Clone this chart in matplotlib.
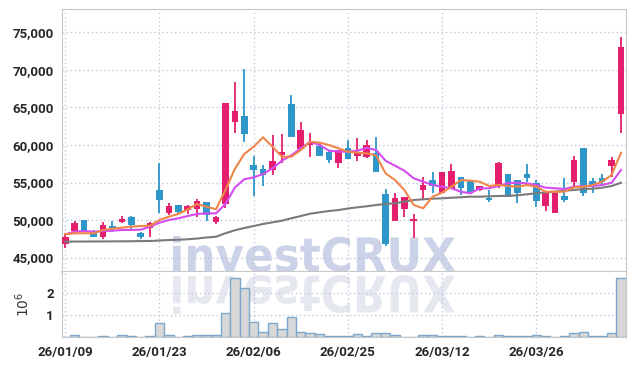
import numpy as np
import matplotlib.pyplot as plt
from matplotlib.textpath import TextPath
from matplotlib.patches import PathPatch
from matplotlib.font_manager import FontProperties
from matplotlib.transforms import Affine2D
from matplotlib.ticker import FuncFormatter

plt.rcParams['font.family'] = ['Roboto', 'DejaVu Sans']

# trading days, yy/mm/dd
dates = ["26/01/09", "26/01/12", "26/01/13", "26/01/14", "26/01/15", "26/01/16",
         "26/01/19", "26/01/20", "26/01/21", "26/01/22", "26/01/23",
         "26/01/26", "26/01/27", "26/01/28", "26/01/29", "26/01/30",
         "26/02/02", "26/02/03", "26/02/04", "26/02/05", "26/02/06",
         "26/02/09", "26/02/10", "26/02/11", "26/02/12", "26/02/13",
         "26/02/19", "26/02/20", "26/02/23", "26/02/24", "26/02/25",
         "26/02/26", "26/02/27", "26/03/03", "26/03/04", "26/03/05", "26/03/06",
         "26/03/09", "26/03/10", "26/03/11", "26/03/12", "26/03/13",
         "26/03/16", "26/03/17", "26/03/18", "26/03/19", "26/03/20",
         "26/03/23", "26/03/24", "26/03/25", "26/03/26", "26/03/27",
         "26/03/30", "26/03/31", "26/04/01", "26/04/02", "26/04/03",
         "26/04/06", "26/04/07", "26/04/08"]

opens = [46750, 48550, 50000, 48550, 47750, 49150, 49750, 50450, 48250, 48950,
         54000, 50900, 52000, 51350, 51450, 52400, 49750, 52100, 63000, 63900,
         57300, 56800, 56700, 58700, 65500, 59500, 60000, 59900, 59100, 57600,
         59600, 58600, 58400, 58900, 53500, 49900, 51500, 49900, 54000, 55300,
         53600, 54100, 55700, 55200, 54000, 53000, 54600, 56100, 55300, 56100,
         55000, 51900, 51000, 53200, 55100, 59600, 55200, 55600, 57200, 64100]
highs = [48250, 49900, 50000, 48650, 49700, 49900, 50550, 50550, 48350, 49800,
         57650, 52250, 52000, 52050, 52800, 52400, 50550, 65600, 68400, 70100,
         58600, 57300, 61300, 61400, 66600, 63100, 61600, 60300, 59300, 59300,
         60700, 60900, 60600, 61000, 54100, 53600, 53100, 50800, 55700, 56400,
         56400, 57500, 55700, 55200, 54600, 54000, 57800, 56100, 55400, 57500,
         55400, 53800, 53800, 55600, 58500, 59600, 55600, 56100, 58400, 74400]
lows = [46250, 48100, 48350, 47700, 47500, 48350, 49650, 48550, 47450, 47750,
        50950, 50650, 50850, 50850, 50350, 49850, 49500, 51550, 61600, 60400,
        53200, 54600, 56000, 57600, 61100, 59500, 58400, 58600, 57600, 57000,
        58100, 57900, 58300, 56400, 46600, 49900, 50400, 47600, 52700, 53600,
        53600, 54100, 53300, 53700, 53900, 52400, 54300, 53100, 52300, 55100,
        51800, 51200, 51000, 52400, 54400, 53200, 53600, 54800, 55800, 61600]
closes = [47700, 49550, 48550, 47750, 49350, 48900, 50150, 49350, 47750, 49550,
          52650, 51850, 51050, 51850, 52500, 50650, 50400, 65600, 64500, 61500,
          56700, 56000, 57900, 59100, 61100, 62000, 60300, 58600, 58000, 59300,
          58200, 59100, 60000, 56400, 46800, 52900, 53100, 49950, 54700, 54600,
          56400, 56500, 54300, 53700, 54500, 52700, 57600, 53100, 53600, 55600,
          52600, 53600, 53600, 52700, 58000, 53600, 54700, 55100, 58000, 73100]

# volume in millions of shares
volume = [0.03, 0.12, 0.03, 0.0, 0.075, 0.03, 0.12, 0.075, 0.03, 0.075,
          0.66, 0.12, 0.03, 0.075, 0.12, 0.12, 0.12, 1.07, 2.64, 2.23,
          0.70, 0.25, 0.66, 0.35, 0.89, 0.26, 0.21, 0.13, 0.07, 0.07,
          0.07, 0.13, 0.07, 0.18, 0.18, 0.09, 0.03, 0.03, 0.09, 0.09,
          0.04, 0.04, 0.045, 0.0, 0.045, 0.0, 0.12, 0.075, 0.045, 0.045,
          0.09, 0.045, 0.0, 0.045, 0.18, 0.22, 0.045, 0.045, 0.18, 2.64]

ma5 = [48100, 48230, 48230, 48230, 48670, 48840, 48970, 49110, 49200, 49240,
       50000, 50440, 50800, 51430, 52130, 51770, 51430, 54000, 56800, 58800,
       59770, 61030, 59770, 58440, 58440, 59330, 60440, 60310, 60000, 59560,
       59110, 58970, 58890, 58600, 56230, 55330, 54000, 52000, 51560, 53110,
       53640, 54440, 55330, 55240, 55110, 54530, 54670, 54530, 54440, 54670,
       54440, 53770, 53770, 53770, 54360, 54440, 54670, 55110, 56000, 58970]
ma10 = [48090, 48440, 48530, 48440, 48530, 48570, 48670, 48670, 48710, 49110,
        49640, 50000, 50230, 50530, 50800, 50890, 50890, 52130, 54330, 55430,
        55690, 56130, 56890, 57910, 58630, 59560, 60440, 60000, 59240, 59110,
        59110, 59240, 59600, 59330, 57910, 57240, 56570, 55560, 55110, 54670,
        54440, 54230, 53770, 53560, 54230, 54230, 54530, 54930, 54970, 54890,
        54670, 54310, 54230, 54130, 54440, 54530, 54530, 54670, 54970, 56670]
ma_long = [47110, 47130, 47130, 47140, 47140, 47150, 47160, 47170, 47190, 47200,
           47270, 47330, 47370, 47430, 47530, 47670, 47770, 48230, 48630, 48930,
           49200, 49470, 49690, 49910, 50230, 50530, 50840, 51030, 51200, 51330,
           51530, 51690, 51830, 52000, 52130, 52230, 52440, 52670, 52760, 52840,
           52890, 52970, 53030, 53110, 53110, 53160, 53200, 53230, 53290, 53430,
           53560, 53690, 53770, 53910, 54000, 54130, 54170, 54310, 54530, 54970]

UP = "#e41f6d"
DOWN = "#2e96c9"
GRID = "#c4c8dc"
SPINE = "#c8c8c8"

W, H = 634, 366
fig = plt.figure(figsize=(W / 100, H / 100), dpi=100)
left, right = 62, 625.7
ax = fig.add_axes([left / W, 1 - 272 / H, (right - left) / W, (272 - 9.3) / H])
axv = fig.add_axes([left / W, 1 - 337.3 / H, (right - left) / W, (337.3 - 272) / H], sharex=ax)

x = np.arange(len(dates))
o = np.array(opens)
c = np.array(closes)
colors = [UP if cc >= oo else DOWN for oo, cc in zip(o, c)]

# candles
ax.vlines(x, lows, highs, colors=colors, lw=1.3, zorder=3)
body_h = np.maximum(np.abs(c - o), 200)
ax.bar(x, body_h, 0.7, bottom=np.minimum(o, c), color=colors, zorder=4)

# moving averages
ax.plot(x, ma_long, color="#7a7a7a", lw=1.5, zorder=5)
ax.plot(x, ma10, color="#d44cf0", lw=1.5, zorder=5)
ax.plot(x, ma5, color="#f0864a", lw=1.5, zorder=5)

ax.set_xlim(-0.35, 59.5)
ax.set_ylim(43067, 78093)
ax.set_yticks(range(45000, 75001, 5000))
ax.yaxis.set_major_formatter(FuncFormatter(lambda v, p: f"{v:,.0f}"))

# volume
axv.bar(x, volume, 1.0, color="#d8d8d8", edgecolor="#7ea8cb", lw=1, zorder=3)
axv.set_ylim(0, 2.93)
axv.set_yticks([1, 2])
axv.set_yticklabels(["1", "2"])
axv.set_ylabel("$10^6$", fontsize=10, color="#333333", labelpad=10)

axv.set_xticks(x[::10])
axv.set_xticklabels([dates[i] for i in x[::10]])

for a in (ax, axv):
    a.grid(True, color=GRID, ls=(0, (1, 2)), lw=1)
    a.tick_params(length=0, labelsize=9.5, labelcolor="#262626", pad=6)
    for lab in a.get_xticklabels() + a.get_yticklabels():
        lab.set_fontweight("bold")
    for s in a.spines.values():
        s.set_color(SPINE)
ax.tick_params(labelbottom=False)
ax.spines["bottom"].set_linewidth(1.5)
axv.spines["top"].set_visible(False)

# investCRUX watermark and its mirror image
fp = FontProperties(family="DejaVu Sans", weight="bold")
tp = TextPath((0, 0), "investCRUX", size=100, prop=fp)
ext = tp.get_extents()
sx = (455 - 173) / ext.width
mark = Affine2D().translate(-ext.x0, -ext.y0).scale(sx, 36 / ext.height).translate(173, H - 272)
ax.add_patch(PathPatch(mark.transform_path(tp), facecolor="#ccd2e7", edgecolor="none",
                       transform=None, zorder=0.8))
mirror = Affine2D().translate(-ext.x0, -ext.y0).scale(sx, -39 / ext.height).translate(173, H - 275)
axv.add_patch(PathPatch(mirror.transform_path(tp), facecolor="#e6e8f0", edgecolor="none",
                        transform=None, zorder=0.8))

fig.savefig("out.png", dpi=100)
